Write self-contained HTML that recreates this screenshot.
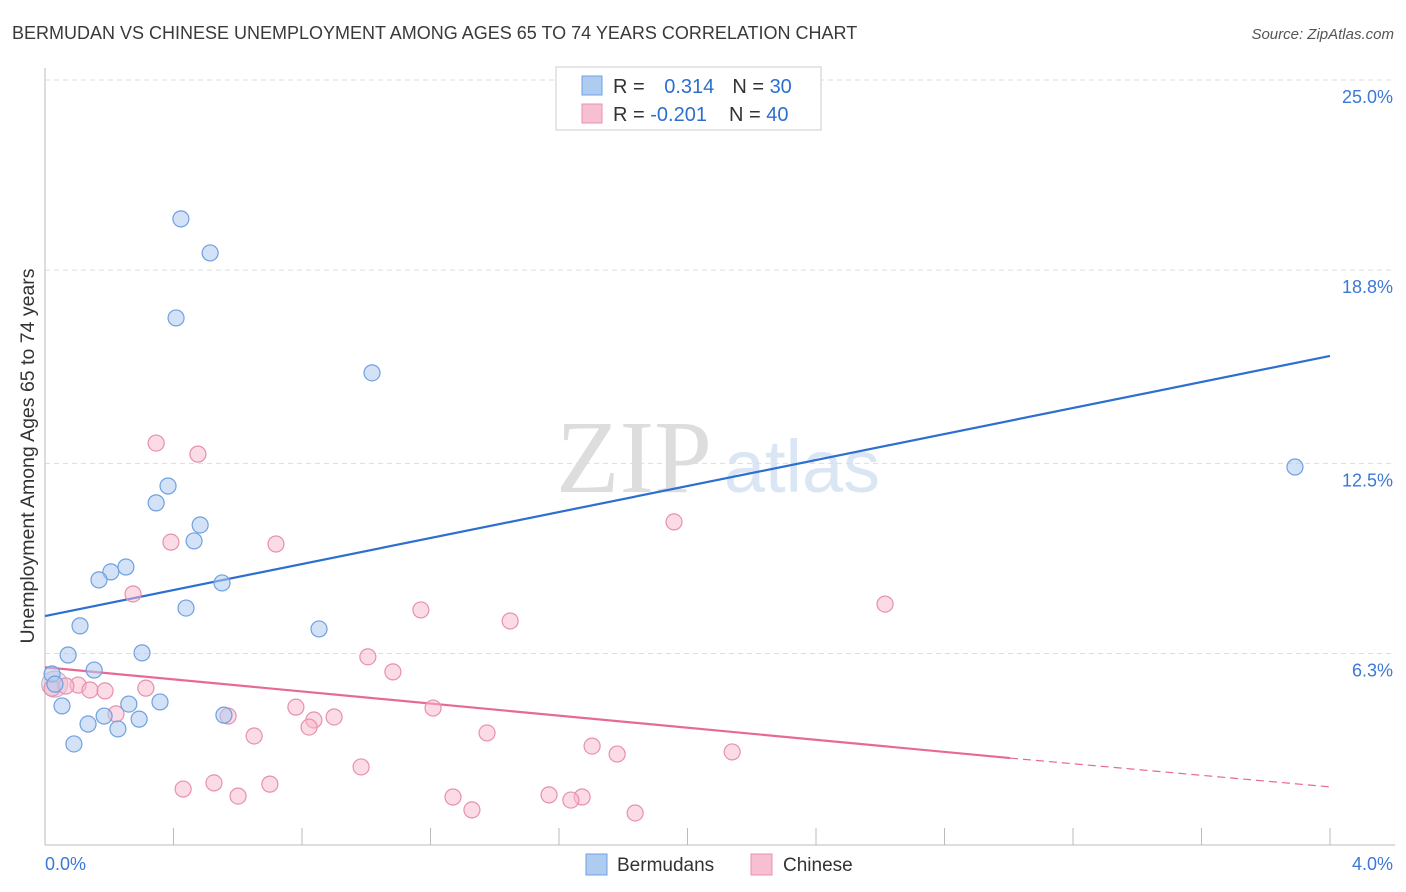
<!DOCTYPE html>
<html><head><meta charset="utf-8"><style>
body{margin:0;background:#fff;font-family:"Liberation Sans",sans-serif;}
svg{display:block}
</style></head><body>
<svg id="chart" width="1406" height="892" xmlns="http://www.w3.org/2000/svg">
<text x="12" y="39" font-size="18" fill="#3a3a3a">BERMUDAN VS CHINESE UNEMPLOYMENT AMONG AGES 65 TO 74 YEARS CORRELATION CHART</text>
<text x="1394" y="39" font-size="15" fill="#555" font-style="italic" text-anchor="end">Source: ZipAtlas.com</text>
<g>
<text x="634" y="492" font-size="104" fill="#ddd" font-family="Liberation Serif" text-anchor="middle">ZIP</text>
<text x="802" y="492" font-size="74" fill="#dbe6f5" text-anchor="middle">atlas</text>
</g>
<g id="grid"></g>
<g id="axes"></g>
<g id="lines"></g>
<g id="points"></g>
<text transform="translate(34,456) rotate(-90)" font-size="19.5" fill="#333" text-anchor="middle">Unemployment Among Ages 65 to 74 years</text>
<g>
<rect x="556" y="67" width="265" height="63" fill="#fff" stroke="#ccc"/>
<rect x="582" y="76" width="20" height="19" fill="#aecbf0" stroke="#6fa0e0"/>
<rect x="582" y="104" width="20" height="19" fill="#f7c0d2" stroke="#e890aa"/>
<text x="613" y="93" font-size="20" fill="#333">R = <tspan fill="#2d6fd0" dx="14">0.314</tspan><tspan dx="18">N = </tspan><tspan fill="#2d6fd0">30</tspan></text>
<text x="613" y="121" font-size="20" fill="#333">R = <tspan fill="#2d6fd0">-0.201</tspan><tspan dx="22">N = </tspan><tspan fill="#2d6fd0">40</tspan></text>
</g>
<g>
<rect x="586" y="854" width="21" height="21" fill="#aecbf0" stroke="#6fa0e0"/>
<text x="617" y="871" font-size="19" fill="#333">Bermudans</text>
<rect x="751" y="854" width="21" height="21" fill="#f7c0d2" stroke="#e890aa"/>
<text x="783" y="871" font-size="19" fill="#333">Chinese</text>
</g>
</svg>
<script>
const yTicks=[25,18.8,12.5,6.3];
const yTickLabels=["25.0%","18.8%","12.5%","6.3%"];
const xTickLabels=["0.0%","4.0%"];
const blueX=[0.423,0.514,0.408,1.018,3.891,0.383,0.346,0.483,0.464,0.252,0.205,0.168,0.551,0.439,0.109,0.853,0.302,0.072,0.153,0.022,0.031,0.053,0.358,0.261,0.184,0.557,0.134,0.293,0.227,0.090];
const blueY=[20.47,19.36,17.24,15.45,12.38,11.76,11.21,10.49,9.97,9.12,8.96,8.70,8.60,7.78,7.20,7.10,6.32,6.25,5.76,5.63,5.30,4.59,4.72,4.65,4.26,4.29,4.00,4.16,3.84,3.35];
const pinkX=[0.346,0.476,1.958,0.392,0.719,0.274,2.615,1.170,1.448,1.005,1.083,0.022,0.103,0.065,0.140,0.187,0.314,0.781,1.208,0.221,0.570,0.900,0.837,0.822,1.376,0.651,1.703,1.781,2.139,0.984,0.430,0.526,0.700,0.601,1.270,1.569,1.672,1.637,1.329,1.837];
const pinkY=[13.16,12.80,10.59,9.93,9.87,8.24,7.91,7.72,7.36,6.19,5.70,5.17,5.27,5.24,5.11,5.08,5.17,4.55,4.52,4.33,4.26,4.23,4.13,3.90,3.71,3.61,3.28,3.02,3.09,2.60,1.88,2.08,2.04,1.65,1.62,1.69,1.62,1.52,1.20,1.10];
const blueTrend=[7.52,16.0];
const pinkTrend=[5.85,2.89,1.95];
const pinkSolidEnd=3.004;

const NS="http://www.w3.org/2000/svg";
const X=v=>45+v/4*1285;
const Y=v=>846.7-v*30.67;
function mk(tag,attrs,parent){const e=document.createElementNS(NS,tag);for(const k in attrs)e.setAttribute(k,attrs[k]);document.getElementById(parent).appendChild(e);return e;}
yTicks.forEach((t,i)=>{
 const l=mk('line',{x1:45,x2:1395,y1:Y(t),y2:Y(t),stroke:'#ddd','stroke-dasharray':'5,4'},'grid');
 
 
 const tx=mk('text',{x:1393,y:Y(t)+23,'font-size':18,fill:'#3b78d8','text-anchor':'end'},'grid');
 tx.textContent=yTickLabels[i];
 
 
});
let a=mk('line',{x1:45,x2:45,y1:68,y2:845,stroke:'#bbb'},'axes');


a=mk('line',{x1:45,x2:1395,y1:845,y2:845,stroke:'#bbb'},'axes');


for(let i=0;i<=10;i++){
 const t=mk('line',{x1:X(i*0.4),x2:X(i*0.4),y1:828,y2:845,stroke:'#bbb'},'axes');
 
 
}
[[0,'start',45],[4,'end',1393]].forEach((d,i)=>{
 const t=mk('text',{x:d[2],y:870,'font-size':18,fill:'#3b78d8','text-anchor':d[1]},'axes');
 t.textContent=xTickLabels[i];
 
 
});
let ln=mk('line',{x1:X(0),y1:Y(blueTrend[0]),x2:X(4),y2:Y(blueTrend[1]),stroke:'#2d6fd0','stroke-width':2.2},'lines');


ln=mk('line',{x1:X(0),y1:Y(pinkTrend[0]),x2:X(pinkSolidEnd),y2:Y(pinkTrend[1]),stroke:'#e66a94','stroke-width':2.2},'lines');


ln=mk('line',{x1:X(pinkSolidEnd),y1:Y(pinkTrend[1]),x2:X(4),y2:Y(pinkTrend[2]),stroke:'#e66a94','stroke-width':1.2,'stroke-dasharray':'8,5'},'lines');


const big=mk('circle',{cx:X(0.03),cy:Y(5.3),r:13,fill:'rgba(200,190,220,0.45)',stroke:'#c8a8c8'},'points');


pinkX.forEach((x,i)=>{
 const c=mk('circle',{cx:X(x),cy:Y(pinkY[i]),r:8,fill:'rgba(247,184,204,0.5)',stroke:'#e890aa','stroke-width':1.2},'points');
 
 
});
blueX.forEach((x,i)=>{
 const c=mk('circle',{cx:X(x),cy:Y(blueY[i]),r:8,fill:'rgba(174,203,240,0.55)',stroke:'#6fa0e0','stroke-width':1.2},'points');
 
 
});
</script>
</body></html>
